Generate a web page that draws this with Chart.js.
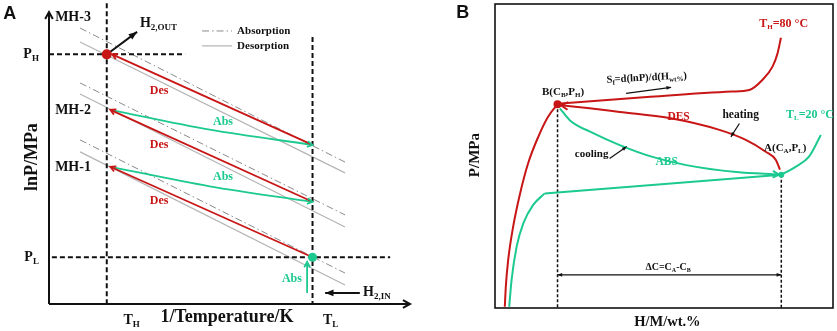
<!DOCTYPE html>
<html>
<head>
<meta charset="utf-8">
<title>Metal hydride cascade</title>
<script src="https://cdn.jsdelivr.net/npm/chart.js@4.4.1/dist/chart.umd.min.js"></script>
<style>
  body { margin: 0; background: #fff; }
  #wrap { position: relative; width: 837px; height: 331px; }
  #chartA { position: absolute; left: 0; top: 0; }
  #chartB { position: absolute; left: 420px; top: 0; }
</style>
</head>
<body>
<div id="wrap">
  <canvas id="chartA" width="420" height="331"></canvas>
  <canvas id="chartB" width="417" height="331"></canvas>
</div>
<script>
// ---------------------------------------------
// Panel A: van't Hoff lines, x = 1/T, y = lnP (arbitrary units 0..10)
// ---------------------------------------------
const tH = 1.6, tL = 7.3;        // 1/T of hot and cold side
const pH = 8.55, pL = 1.6;       // lnP of high and low pressure
const isoX = [0.86, 8.2];        // span of the isotherm lines
const isoAbs = [[9.45, 4.86], [7.57, 3.05], [5.62, 1.06]];   // MH-3, MH-2, MH-1
const isoDes = [[8.97, 4.49], [7.19, 2.64], [5.21, 0.65]];
const desLow = [5.45, 3.5, pL];  // Des arrows start at T_L ...
const desHigh = [pH, 6.65, 4.7]; // ... and end at T_H
const absMidX = 4.45;
const absMid = [5.97, 4.03];     // sag of the two Abs arrows
const feedX = 7.15, feedY = [0.38, 1.44];
const h2OutX = [1.69, 2.44], h2OutY = [8.63, 9.32];
const h2InX = [8.61, 7.65], h2InY = [0.38, 0.38];
const legendX = [4.24, 5.07], legendY = [9.35, 8.84];

// ---------------------------------------------
// Panel B: isotherms, x = H/M wt.%, y = P (arbitrary units 0..10)
// ---------------------------------------------
const hotX = [0.29, 0.32, 0.39, 0.52, 0.72, 0.98, 1.28, 1.57, 1.85];
const hotY = [0.04, 0.7, 1.58, 2.57, 3.66, 4.76, 5.63, 6.29, 6.7];
const hotPlatX = [1.85, 4.5, 7.0, 7.52, 7.91, 8.21, 8.36, 8.46];
const hotPlatY = [6.72, 6.94, 7.12, 7.17, 7.5, 7.94, 8.38, 8.89];
const coldX = [0.42, 0.49, 0.64, 0.84, 1.13, 1.47];
const coldY = [0.04, 0.92, 2.02, 2.79, 3.39, 3.77];
const coldPlatX = [1.47, 8.47];
const coldPlatY = [3.77, 4.38];
const coldRiseX = [8.47, 8.9, 9.29, 9.64];
const coldRiseY = [4.38, 4.65, 4.98, 5.69];
const desX = [1.95, 2.8, 3.69, 5.16, 6.64, 7.42, 8.01, 8.31, 8.43];
const desY = [6.67, 6.57, 6.45, 6.25, 5.86, 5.53, 5.14, 4.87, 4.55];
const absX = [1.92, 2.21, 2.89, 3.69, 4.66, 5.66, 7.14, 8.4];
const absY = [6.57, 6.18, 5.76, 5.36, 4.97, 4.7, 4.47, 4.39];
const cB = 1.85, pB = 6.7;       // point B
const cA = 8.47, pA = 4.38;      // point A
const deltaY = 1.09;
const sfX = [3.88, 5.21], sfY = [7.06, 7.26];
const heatX = [7.23, 6.98], heatY = [6.07, 5.63];
const coolX = [3.39, 3.9], coolY = [4.92, 5.31];

const RED = "#c81616";
const GREEN = "#1cc990";
const SERIF = '"Liberation Serif", "Times New Roman", serif';
const SANS = '"Liberation Sans", Arial, sans-serif';

function pts(xs, ys) {
  return xs.map((x, i) => ({ x: x, y: ys[i] }));
}

function line(data, color, width, extra) {
  return Object.assign({
    data: data,
    showLine: true,
    borderColor: color,
    borderWidth: width,
    pointRadius: 0,
    fill: false,
    clip: false,
  }, extra || {});
}

function dot(x, y, color, r) {
  return { data: [{ x: x, y: y }], showLine: false, pointRadius: r,
           backgroundColor: color, borderWidth: 0, clip: false };
}

// ---------------------------------------------
// Text with _{subscript} parts
// ---------------------------------------------
function richText(ctx, str, x, y, size, align, family, color, rot) {
  const parts = [];
  str.replace(/_\{([^}]*)\}|([^_]+)/g, (m, sub, txt) => {
    parts.push(sub !== undefined ? { t: sub, sub: true } : { t: txt, sub: false });
  });
  const subSize = Math.round(size * 0.62);
  let total = 0;
  parts.forEach((p) => {
    ctx.font = "bold " + (p.sub ? subSize : size) + "px " + family;
    p.w = ctx.measureText(p.t).width;
    total += p.w;
  });
  ctx.save();
  ctx.translate(x, y);
  if (rot) ctx.rotate(rot * Math.PI / 180);
  let cx = align === "center" ? -total / 2 : align === "right" ? -total : 0;
  ctx.fillStyle = color;
  ctx.textBaseline = "middle";
  ctx.textAlign = "left";
  parts.forEach((p) => {
    ctx.font = "bold " + (p.sub ? subSize : size) + "px " + family;
    ctx.fillText(p.t, cx, p.sub ? size * 0.3 : 0);
    cx += p.w;
  });
  ctx.restore();
}

function drawHead(ctx, tip, from, size, style, color, lw) {
  const ang = Math.atan2(tip.y - from.y, tip.x - from.x);
  const spread = style === "open" ? 0.5 : 0.38;
  const p1 = { x: tip.x - size * Math.cos(ang - spread), y: tip.y - size * Math.sin(ang - spread) };
  const p2 = { x: tip.x - size * Math.cos(ang + spread), y: tip.y - size * Math.sin(ang + spread) };
  ctx.save();
  ctx.setLineDash([]);
  ctx.strokeStyle = color;
  ctx.fillStyle = color;
  ctx.lineWidth = lw;
  ctx.beginPath();
  ctx.moveTo(p1.x, p1.y);
  ctx.lineTo(tip.x, tip.y);
  ctx.lineTo(p2.x, p2.y);
  if (style === "open") {
    ctx.stroke();
  } else {
    ctx.closePath();
    ctx.fill();
  }
  ctx.restore();
}

// arrow heads (ds.arrow = 'end' | 'start' | 'both') and labels
const decorPlugin = {
  id: "decor",
  afterDatasetsDraw(chart) {
    const ctx = chart.ctx;
    chart.data.datasets.forEach((ds, i) => {
      if (!ds.arrow) return;
      const el = chart.getDatasetMeta(i).data;
      const n = el.length;
      const size = ds.headSize || 7;
      const style = ds.headStyle || "open";
      if (ds.arrow === "end" || ds.arrow === "both") {
        const last = el[n - 1];
        let from = el[n - 2];
        if (last.cp1x !== undefined && Math.hypot(last.cp1x - last.x, last.cp1y - last.y) > 2) {
          from = { x: last.cp1x, y: last.cp1y };
        }
        drawHead(ctx, last, from, size, style, ds.borderColor, ds.borderWidth);
      }
      if (ds.arrow === "start" || ds.arrow === "both") {
        const first = el[0];
        let from = el[1];
        if (first.cp2x !== undefined && Math.hypot(first.cp2x - first.x, first.cp2y - first.y) > 2) {
          from = { x: first.cp2x, y: first.cp2y };
        }
        drawHead(ctx, first, from, size, style, ds.borderColor, ds.borderWidth);
      }
    });
  },
  afterDraw(chart, args, opts) {
    const ctx = chart.ctx;
    const xs = chart.scales.x, ys = chart.scales.y;
    if (opts.frame) {
      const a = chart.chartArea;
      ctx.save();
      ctx.strokeStyle = "#111";
      ctx.lineWidth = 1.6;
      ctx.strokeRect(a.left, a.top, a.right - a.left, a.bottom - a.top);
      ctx.restore();
    }
    (opts.notes || []).forEach((n) => {
      richText(ctx, n.t, xs.getPixelForValue(n.x), ys.getPixelForValue(n.y),
               n.s, n.a || "left", n.f === "sans" ? SANS : SERIF, n.c || "#111", n.r || 0);
    });
  },
};

function makeChart(id, datasets, padding, notes, frame) {
  return new Chart(document.getElementById(id), {
    type: "scatter",
    data: { datasets: datasets },
    options: {
      responsive: false,
      animation: false,
      events: [],
      layout: { padding: padding },
      scales: {
        x: { type: "linear", min: 0, max: 10, display: false },
        y: { type: "linear", min: 0, max: 10, display: false },
      },
      plugins: {
        legend: { display: false },
        tooltip: { enabled: false },
        decor: { notes: notes, frame: frame },
      },
    },
    plugins: [decorPlugin],
  });
}

// ---------------------------------------------
// Panel A
// ---------------------------------------------
const dashA = { borderDash: [5, 3] };
const dsA = [
  dot(tH, pH, RED, 5),
  dot(tL, pL, GREEN, 4.5),
];
// Des arrows (red) and Abs arrows (green)
for (let k = 0; k < 3; k++) {
  const endX = k === 0 ? tH + 0.15 : tH + 0.1;
  dsA.push(line(pts([tL, endX], [desLow[k], desHigh[k]]), RED, 1.8, { arrow: "end", headSize: 6 }));
}
for (let k = 0; k < 2; k++) {
  dsA.push(line(pts([tH + 0.1, absMidX, tL], [desHigh[k + 1], absMid[k], desLow[k]]), GREEN, 1.8,
    { arrow: "end", headSize: 6, cubicInterpolationMode: "monotone" }));
}
dsA.push(line(pts([feedX, feedX], feedY), GREEN, 1.8, { arrow: "end", headSize: 6 }));
// H2 in / out
dsA.push(line(pts(h2OutX, h2OutY), "#111", 2, { arrow: "end", headSize: 9, headStyle: "filled" }));
dsA.push(line(pts(h2InX, h2InY), "#111", 2, { arrow: "end", headSize: 9, headStyle: "filled" }));
// dashed guides
dsA.push(line(pts([tH, tH], [10.3, 0]), "#111", 2, dashA));
dsA.push(line(pts([tL, tL], [9.14, 0]), "#111", 2, dashA));
dsA.push(line(pts([0, 3.77], [pH, pH]), "#111", 2, dashA));
dsA.push(line(pts([0.08, 9.45], [pL, pL]), "#111", 2, dashA));
// isotherms
for (let k = 0; k < 3; k++) {
  dsA.push(line(pts(isoX, isoAbs[k]), "#8a8a8a", 1, { borderDash: [7, 3, 1.5, 3] }));
  dsA.push(line(pts(isoX, isoDes[k]), "#b4b4b4", 1.2));
}
// legend samples
dsA.push(line(pts(legendX, [legendY[0], legendY[0]]), "#8a8a8a", 1, { borderDash: [7, 3, 1.5, 3] }));
dsA.push(line(pts(legendX, [legendY[1], legendY[1]]), "#b4b4b4", 1.2));
// axes
dsA.push(line(pts([0, 0], [0, 10]), "#111", 2, { arrow: "end", headSize: 8 }));
dsA.push(line(pts([0, 10], [0, 0]), "#111", 2, { arrow: "end", headSize: 8 }));

const notesA = [
  { t: "A", x: -1.27, y: 9.93, s: 18, f: "sans" },
  { t: "MH-3", x: 0.17, y: 9.83, s: 14 },
  { t: "MH-2", x: 0.17, y: 6.64, s: 14 },
  { t: "MH-1", x: 0.17, y: 4.69, s: 14 },
  { t: "P_{H}", x: -0.28, y: pH, s: 14, a: "right" },
  { t: "P_{L}", x: -0.28, y: pL, s: 14, a: "right" },
  { t: "H_{2,OUT}", x: 2.52, y: 9.62, s: 14 },
  { t: "H_{2,IN}", x: 8.7, y: 0.41, s: 14 },
  { t: "T_{H}", x: 2.29, y: -0.55, s: 14, a: "center" },
  { t: "T_{L}", x: 7.8, y: -0.55, s: 14, a: "center" },
  { t: "1/Temperature/K", x: 4.93, y: -0.45, s: 18, a: "center" },
  { t: "lnP/MPa", x: -0.47, y: 5.03, s: 18, a: "center", r: -90 },
  { t: "Absorption", x: 5.21, y: legendY[0], s: 11 },
  { t: "Desorption", x: 5.21, y: legendY[1], s: 11 },
  { t: "Des", x: 3.05, y: 7.29, s: 12, a: "center", c: RED },
  { t: "Des", x: 3.05, y: 5.45, s: 12, a: "center", c: RED },
  { t: "Des", x: 3.05, y: 3.53, s: 12, a: "center", c: RED },
  { t: "Abs", x: 4.82, y: 6.23, s: 12, a: "center", c: GREEN },
  { t: "Abs", x: 4.82, y: 4.35, s: 12, a: "center", c: GREEN },
  { t: "Abs", x: 6.73, y: 0.86, s: 12, a: "center", c: GREEN },
];

makeChart("chartA", dsA, { left: 49, right: 10, top: 12, bottom: 27 }, notesA, false);

// ---------------------------------------------
// Panel B
// ---------------------------------------------
const mono = { cubicInterpolationMode: "monotone" };
const dsB = [
  dot(cB, pB, RED, 4),
  dot(cA, pA, GREEN, 3),
  line(pts(desX, desY), RED, 2, Object.assign({ arrow: "start", headSize: 8 }, mono)),
  line(pts(absX, absY), GREEN, 2, Object.assign({ arrow: "end", headSize: 7 }, mono)),
  line(pts(hotX, hotY), RED, 2, mono),
  line(pts(hotPlatX, hotPlatY), RED, 2, mono),
  line(pts(coldX, coldY), GREEN, 2, mono),
  line(pts(coldPlatX, coldPlatY), GREEN, 2),
  line(pts(coldRiseX, coldRiseY), GREEN, 2, mono),
  line(pts([cB, cB], [pB, 0]), "#111", 1.5, { borderDash: [3, 2] }),
  line(pts([cA, cA], [pA, 0]), "#111", 1.5, { borderDash: [3, 2] }),
  line(pts([cB, cA], [deltaY, deltaY]), "#111", 1.3, { arrow: "both", headSize: 5, headStyle: "filled" }),
  line(pts(sfX, sfY), "#111", 1.2, { arrow: "end", headSize: 5, headStyle: "filled" }),
  line(pts(heatX, heatY), "#111", 1.2, { arrow: "end", headSize: 5, headStyle: "filled" }),
  line(pts(coolX, coolY), "#111", 1.2, { arrow: "end", headSize: 5, headStyle: "filled" }),
];

const notesB = [
  { t: "B", x: -1.15, y: 9.7, s: 18, f: "sans" },
  { t: "T_{H}=80 °C", x: 7.82, y: 9.34, s: 12, c: RED },
  { t: "T_{L}=20 °C", x: 8.61, y: 6.35, s: 12, c: GREEN },
  { t: "B(C_{B},P_{H})", x: 1.39, y: 7.11, s: 11 },
  { t: "A(C_{A},P_{L})", x: 7.96, y: 5.26, s: 11 },
  { t: "S_{f}=d(lnP)/d(H_{wt%})", x: 3.3, y: 7.5, s: 10.5, r: -3 },
  { t: "DES", x: 5.1, y: 6.28, s: 11.5, c: RED },
  { t: "heating", x: 6.73, y: 6.35, s: 11.5 },
  { t: "cooling", x: 2.36, y: 5.07, s: 11 },
  { t: "ABS", x: 4.75, y: 4.8, s: 11.5, c: GREEN },
  { t: "ΔC=C_{A}-C_{B}", x: 4.45, y: 1.35, s: 10 },
  { t: "H/M/wt.%", x: 5.1, y: -0.46, s: 14.5, a: "center" },
  { t: "P/MPa", x: -0.59, y: 5.03, s: 15, a: "center", r: -90 },
];

makeChart("chartB", dsB, { left: 75, right: 3, top: 4, bottom: 23 }, notesB, true);
</script>
</body>
</html>
